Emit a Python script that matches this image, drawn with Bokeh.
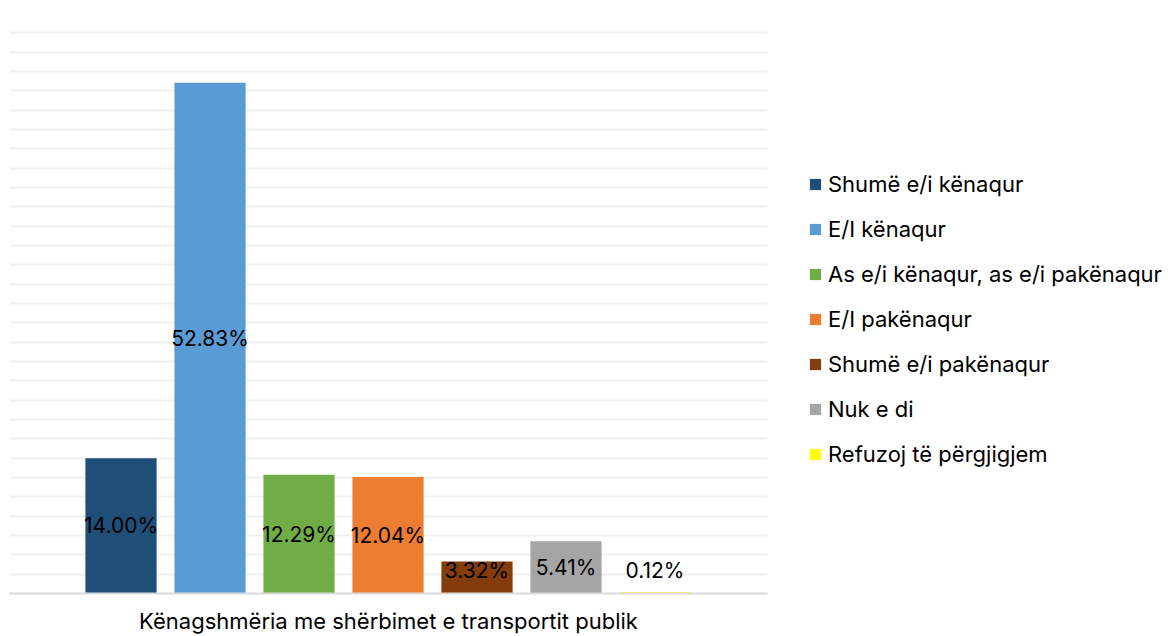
from bokeh.plotting import figure
from bokeh.models import ColumnDataSource, Range1d, Legend, LegendItem, FixedTicker
from bokeh.core.properties import value
from bokeh.embed import file_html
from bokeh.resources import INLINE

categories = ["Shumë e/i kënaqur", "E/I kënaqur", "As e/i kënaqur, as e/i pakënaqur",
              "E/I pakënaqur", "Shumë e/i pakënaqur", "Nuk e di", "Refuzoj të përgjigjem"]
values = [14.00, 52.83, 12.29, 12.04, 3.32, 5.41, 0.12]
colors = ["#1F4E79", "#5B9BD5", "#70AD47", "#ED7D31", "#843C0C", "#A5A5A5", "#FFFF00"]
labels = ["14.00%", "52.83%", "12.29%", "12.04%", "3.32%", "5.41%", "0.12%"]
x_title = "Kënagshmëria me shërbimet e transportit publik"

FONT = "Inter"
xs = list(range(len(values)))
label_y = [max(v / 2, 2.4) for v in values]

p = figure(frame_width=758, frame_height=580, output_backend="svg", toolbar_location=None,
           x_range=Range1d(-1.253, 7.264), y_range=Range1d(0, 60),
           min_border_left=9, min_border_top=13, min_border_bottom=42, min_border_right=0)
p.outline_line_color = None
p.background_fill_color = "white"
p.border_fill_color = "white"

p.yaxis.visible = False
p.xgrid.grid_line_color = None
p.ygrid.ticker = FixedTicker(ticks=list(range(2, 61, 2)))
p.ygrid.grid_line_color = "#F0F0F0"
p.ygrid.grid_line_width = 2

p.xaxis.ticker = FixedTicker(ticks=[])
p.xaxis.major_label_text_font_size = "0px"
p.xaxis.major_tick_line_color = None
p.xaxis.minor_tick_line_color = None
p.xaxis.axis_line_color = "#D9D9D9"
p.xaxis.axis_line_width = 2
p.xaxis.axis_label = x_title
p.xaxis.axis_label_text_font = FONT
p.xaxis.axis_label_text_font_style = "normal"
p.xaxis.axis_label_text_font_size = "22px"
p.xaxis.axis_label_text_color = "#000000"
p.xaxis.axis_label_standoff = 14

items = []
for i in range(len(values)):
    src = ColumnDataSource(dict(x=[xs[i]], top=[values[i]]))
    r = p.vbar(x="x", top="top", width=0.8, bottom=0, source=src,
               fill_color=colors[i], line_color=None)
    items.append(LegendItem(label=categories[i], renderers=[r]))

tsrc = ColumnDataSource(dict(x=xs, y=label_y, t=labels))
p.text(x="x", y="y", text="t", source=tsrc, text_align="center", text_baseline="middle",
       text_font=value(FONT), text_font_size="21px", text_color="#000000")

legend = Legend(items=items, location=(41, 126), margin=0, padding=0,
                glyph_width=14, glyph_height=14, label_height=20, spacing=19,
                label_standoff=6, label_text_font=FONT, label_text_font_size="22px",
                label_text_color="#000000", border_line_color=None,
                background_fill_alpha=0)
p.add_layout(legend, "right")

open("out.html", "w").write(file_html(p, INLINE))
